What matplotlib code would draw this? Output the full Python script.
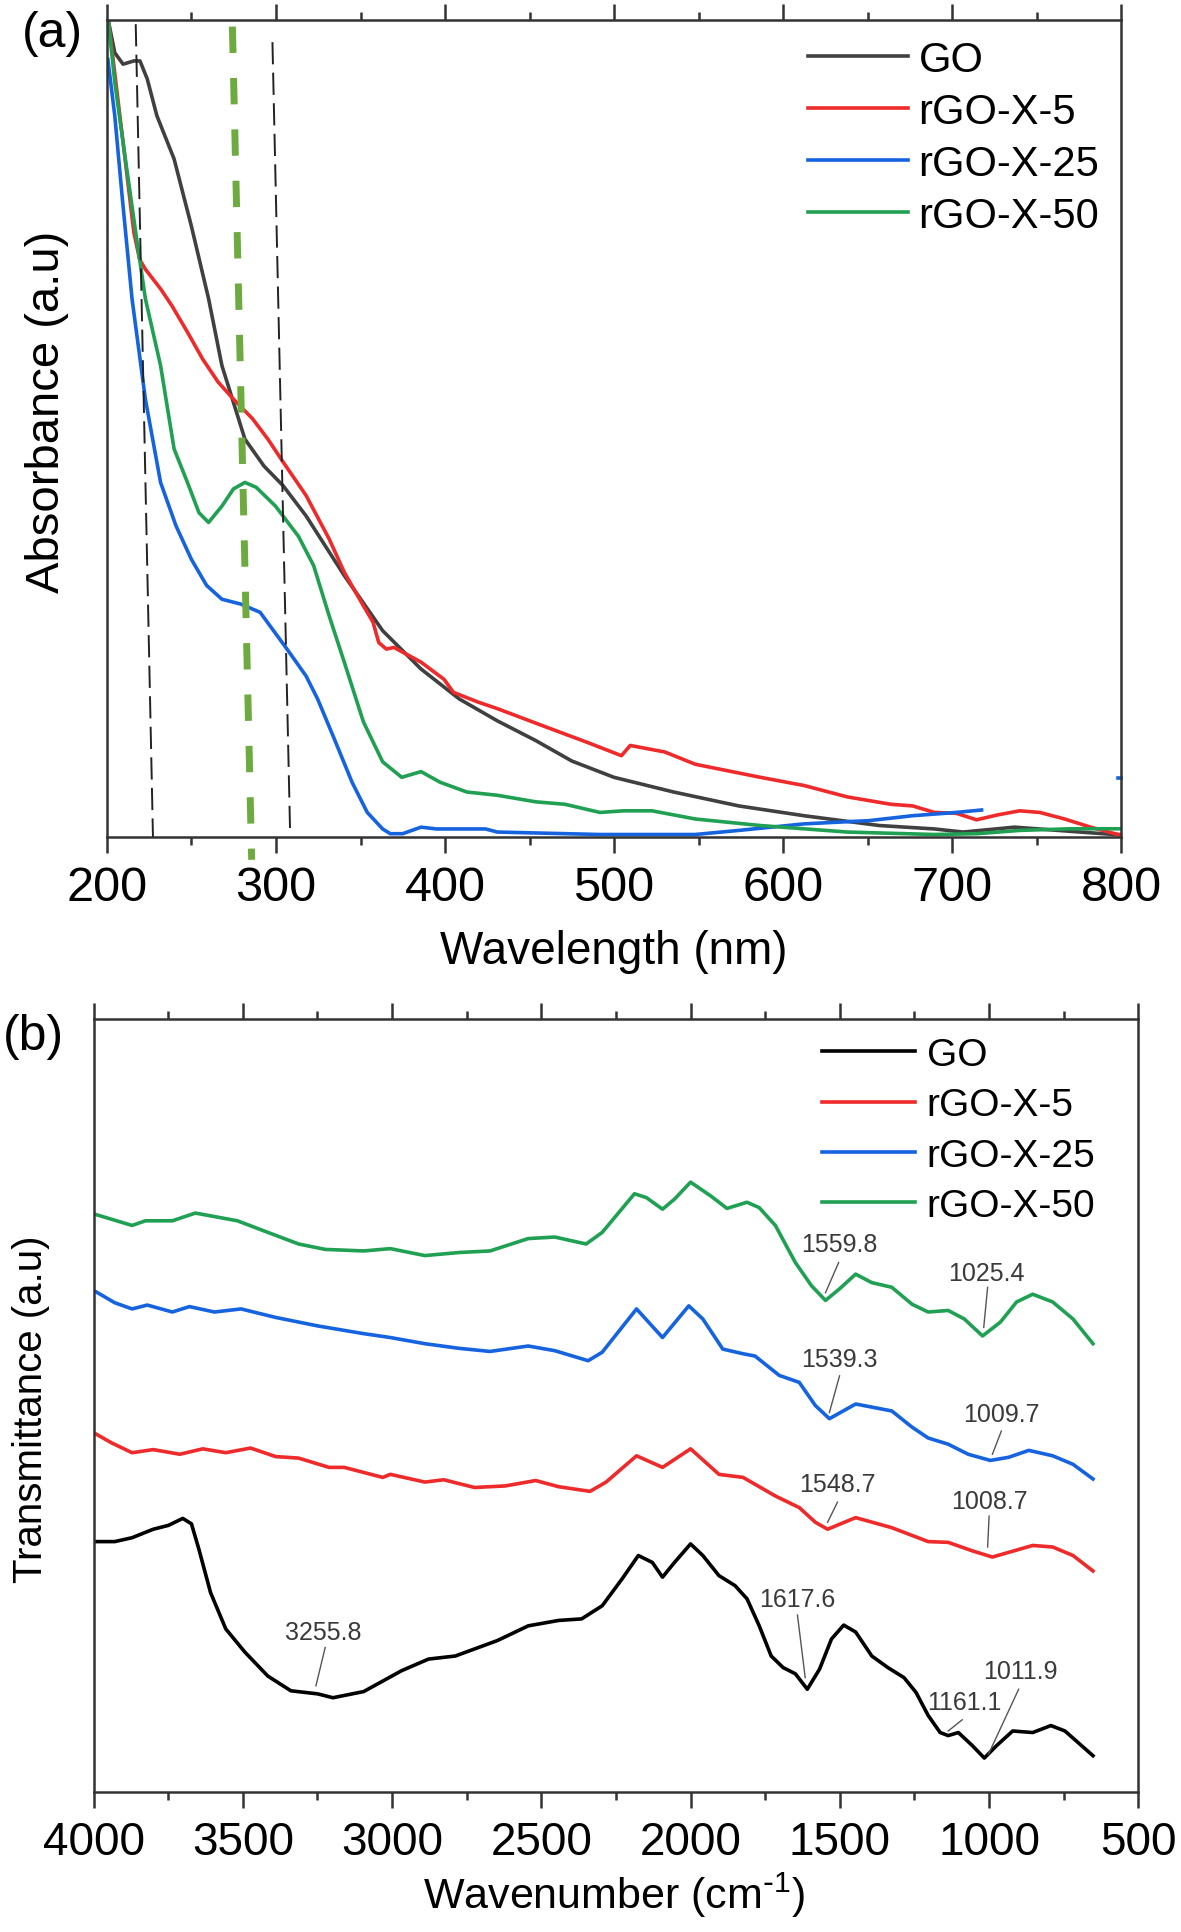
import matplotlib
matplotlib.use('Agg')
import matplotlib.pyplot as plt
from matplotlib.ticker import MultipleLocator

plt.rcParams['font.family'] = ['Liberation Sans', 'DejaVu Sans']
plt.rcParams['mathtext.default'] = 'regular'
plt.rcParams['lines.scale_dashes'] = False

# ---------------- Panel (a): UV-Vis absorbance ----------------
series_labels = ['GO', 'rGO-X-5', 'rGO-X-25', 'rGO-X-50']

go_a_x = [200.8, 204.6, 209.5, 215.9, 219.5, 223.8, 229.5, 239.7, 249.9, 260.1, 268, 274.8,
          281.6, 292.9, 304.2, 317.8, 340.4, 363.1, 385.8, 408.4, 431.1, 453.7, 475, 500,
          535.3, 573.8, 612.4, 657, 689.6, 706.5, 737, 776, 796, 800]
go_a_y = [0.999, 0.960, 0.946, 0.950, 0.950, 0.928, 0.883, 0.830, 0.748, 0.659, 0.577, 0.532,
          0.487, 0.454, 0.430, 0.393, 0.320, 0.2525, 0.2056, 0.169, 0.142, 0.118, 0.093, 0.073,
          0.055, 0.038, 0.026, 0.014, 0.0098, 0.006, 0.012, 0.006, 0.003, 0.003]

red_a_x = [201, 215.9, 219.3, 222.7, 231.7, 238.5, 247.6, 256.6, 265.7, 274.8, 286.1, 295.2,
           304.2, 317.8, 331.4, 340.4, 351.7, 357.4, 360.8, 365.3, 369.8, 385.8, 399.4, 405,
           419.7, 431.1, 458, 483.9, 504.4, 509.6, 530.1, 548.1, 586.6, 612.4, 638.1, 663.8,
           676.7, 689.6, 702.5, 714.5, 727, 740, 752, 766.6, 782, 800]
red_a_y = [0.997, 0.740, 0.707, 0.695, 0.671, 0.650, 0.618, 0.585, 0.557, 0.536, 0.512, 0.487,
           0.459, 0.418, 0.365, 0.324, 0.283, 0.263, 0.238, 0.230, 0.232, 0.214, 0.193, 0.177,
           0.165, 0.157, 0.136, 0.116, 0.0995, 0.112, 0.104, 0.089, 0.073, 0.063, 0.049, 0.040,
           0.038, 0.030, 0.029, 0.021, 0.027, 0.032, 0.030, 0.022, 0.012, 0.002]

blue_a_x = [200.5, 204.6, 209.1, 214.8, 222.7, 231.7, 240.8, 249.9, 258.9, 268, 279.3, 290.6,
            306.5, 317.8, 324.6, 333.7, 345, 354, 363.1, 367.6, 375, 385.8, 395, 424, 431,
            491.7, 548, 573.8, 612.4, 651, 676.7, 702.5, 717.5]
blue_a_y = [0.952, 0.883, 0.781, 0.659, 0.536, 0.434, 0.381, 0.340, 0.308, 0.291, 0.285, 0.275,
            0.230, 0.197, 0.169, 0.124, 0.067, 0.030, 0.0098, 0.004, 0.004, 0.012, 0.0098, 0.0098,
            0.006, 0.003, 0.003, 0.008, 0.016, 0.020, 0.026, 0.030, 0.033]
blue_a_tail_x = [798.5, 800]
blue_a_tail_y = [0.072, 0.072]

green_a_x = [200.8, 204.6, 211.4, 217, 222.7, 231.7, 239.7, 247.6, 254.4, 260.1, 268, 274.8,
             281.6, 288.3, 299.7, 313.3, 322.3, 331.4, 340.4, 351.7, 363.1, 374.4, 385.8, 397.1,
             412.9, 431.1, 453.7, 471, 491.7, 505.7, 522.5, 548.1, 586.6, 638.1, 689.6, 715,
             740, 770, 800]
green_a_y = [0.999, 0.924, 0.822, 0.740, 0.659, 0.577, 0.475, 0.434, 0.397, 0.385, 0.405, 0.426,
             0.434, 0.428, 0.405, 0.368, 0.332, 0.271, 0.214, 0.141, 0.092, 0.073, 0.080, 0.067,
             0.055, 0.051, 0.043, 0.040, 0.030, 0.032, 0.032, 0.022, 0.014, 0.006, 0.003, 0.004,
             0.008, 0.010, 0.010]

# guide lines in panel (a): (x_top, y_top, x_bottom, y_bottom)
guide_black_1 = [217.0, 0.995, 227.2, 0.0]
guide_black_2 = [297.9, 0.973, 308.3, 0.0098]
guide_green = [274.2, 0.992, 285.6, -0.028]

# ---------------- Panel (b): FTIR transmittance ----------------
go_b_x = [4000, 3929, 3871, 3800, 3749, 3701, 3672, 3647, 3608, 3557, 3493, 3416, 3339, 3249,
          3198, 3095, 2968, 2878, 2788, 2647, 2544, 2442, 2365, 2296, 2229, 2175, 2128, 2094,
          2054, 2000, 1959, 1905, 1851, 1811, 1770, 1730, 1690, 1649, 1609, 1568, 1528, 1487,
          1447, 1393, 1339, 1285, 1245, 1204, 1164, 1137, 1103, 1056, 1016, 975, 921, 854, 793,
          746, 652]
go_b_y = [0.324, 0.324, 0.329, 0.340, 0.345, 0.354, 0.347, 0.314, 0.258, 0.211, 0.181, 0.150,
          0.131, 0.127, 0.122, 0.130, 0.157, 0.172, 0.176, 0.196, 0.215, 0.222, 0.224, 0.241,
          0.276, 0.306, 0.297, 0.278, 0.297, 0.321, 0.306, 0.280, 0.267, 0.250, 0.215, 0.176,
          0.161, 0.153, 0.133, 0.159, 0.198, 0.216, 0.207, 0.176, 0.161, 0.148, 0.129, 0.099,
          0.077, 0.073, 0.077, 0.060, 0.044, 0.060, 0.079, 0.077, 0.086, 0.079, 0.047]

red_b_x = [4000, 3941, 3871, 3800, 3711, 3634, 3557, 3474, 3390, 3313, 3211, 3160, 3031, 3006,
           2890, 2827, 2724, 2621, 2519, 2442, 2337, 2283, 2181, 2094, 2000, 1905, 1824, 1716,
           1636, 1582, 1541, 1447, 1326, 1204, 1137, 1056, 989, 854, 787, 719, 652]
red_b_y = [0.465, 0.452, 0.439, 0.443, 0.437, 0.444, 0.439, 0.445, 0.434, 0.432, 0.420, 0.420,
           0.407, 0.411, 0.401, 0.404, 0.394, 0.396, 0.403, 0.395, 0.389, 0.401, 0.435, 0.420,
           0.444, 0.411, 0.407, 0.383, 0.368, 0.349, 0.340, 0.355, 0.342, 0.324, 0.323, 0.312,
           0.304, 0.319, 0.317, 0.306, 0.286]

blue_b_x = [4000, 3929, 3871, 3820, 3736, 3679, 3595, 3506, 3390, 3249, 3095, 3006, 2890, 2775,
            2672, 2544, 2455, 2343, 2296, 2181, 2094, 2006, 1959, 1892, 1824, 1784, 1703, 1636,
            1582, 1535, 1447, 1326, 1258, 1204, 1137, 1070, 996, 935, 867, 787, 719, 652]
blue_b_y = [0.649, 0.633, 0.625, 0.630, 0.621, 0.628, 0.621, 0.625, 0.614, 0.603, 0.593, 0.588,
            0.580, 0.574, 0.570, 0.577, 0.571, 0.558, 0.569, 0.625, 0.588, 0.629, 0.612, 0.573,
            0.567, 0.564, 0.539, 0.530, 0.500, 0.483, 0.502, 0.493, 0.472, 0.458, 0.450, 0.437,
            0.429, 0.433, 0.442, 0.435, 0.424, 0.405]

green_b_x = [4000, 3871, 3826, 3736, 3659, 3518, 3416, 3313, 3224, 3095, 3006, 2890, 2775, 2672,
             2544, 2455, 2350, 2296, 2188, 2148, 2094, 2054, 2000, 1932, 1878, 1811, 1770, 1716,
             1649, 1595, 1548, 1501, 1447, 1393, 1326, 1258, 1204, 1137, 1083, 1022, 962, 908,
             854, 787, 719, 652]
green_b_y = [0.748, 0.733, 0.739, 0.739, 0.749, 0.739, 0.724, 0.709, 0.702, 0.700, 0.703, 0.694,
             0.698, 0.700, 0.716, 0.718, 0.709, 0.724, 0.774, 0.769, 0.754, 0.767, 0.789, 0.771,
             0.755, 0.763, 0.756, 0.733, 0.685, 0.655, 0.636, 0.651, 0.670, 0.659, 0.653, 0.631,
             0.621, 0.623, 0.612, 0.590, 0.608, 0.634, 0.644, 0.634, 0.612, 0.580]

# peak annotations: label, text (x, y), leader start (x, y), leader end (x, y)
peak_labels = ['3255.8', '1617.6', '1161.1', '1011.9', '1548.7', '1008.7', '1009.7',
               '1539.3', '1559.8', '1025.4']
peak_text_x = [3230, 1642, 1083, 894, 1508, 1000, 959, 1501, 1501, 1009]
peak_text_y = [0.207, 0.250, 0.116, 0.157, 0.398, 0.376, 0.489, 0.560, 0.709, 0.672]
leader_x0 = [3224, 1642, 1090, 901, 1508, 1000, 959, 1501, 1504, 1005]
leader_y0 = [0.187, 0.229, 0.0935, 0.133, 0.375, 0.357, 0.467, 0.5385, 0.685, 0.653]
leader_x1 = [3255, 1616, 1137, 1002, 1541, 1005, 989, 1535, 1548, 1018]
leader_y1 = [0.1375, 0.148, 0.079, 0.049, 0.349, 0.317, 0.437, 0.491, 0.646, 0.601]

a_xticks = [200, 300, 400, 500, 600, 700, 800]
b_xticks = [4000, 3500, 3000, 2500, 2000, 1500, 1000, 500]

# ---------------- styling ----------------
c_go_a = '#404040'
c_go_b = '#000000'
c_red = '#EE2A2A'
c_blue = '#1663E0'
c_green = '#20A052'
c_guide_green = '#6DAA40'
spine_c = '#333333'
lw = 2.6

fig = plt.figure(figsize=(11.81, 19.33), dpi=100)
axa = fig.add_axes([0.0906, 0.5665, 0.8586, 0.4226])
axb = fig.add_axes([0.0792, 0.0724, 0.8847, 0.3999])

def style_axes(ax, fs, pad):
    for s in ax.spines.values():
        s.set_linewidth(1.8)
        s.set_color(spine_c)
    ax.tick_params(axis='x', which='both', direction='out', top=True, bottom=True,
                   labeltop=False, color=spine_c, width=1.8)
    ax.tick_params(axis='x', which='major', length=11.3, labelsize=fs, pad=pad)
    ax.tick_params(axis='x', which='minor', length=5.8)
    ax.tick_params(axis='y', which='both', left=False, right=False, labelleft=False)

# Panel (a)
axa.plot(go_a_x, go_a_y, color=c_go_a, lw=lw, label=series_labels[0], zorder=2)
axa.plot(red_a_x, red_a_y, color=c_red, lw=lw, label=series_labels[1], zorder=2)
axa.plot(blue_a_x, blue_a_y, color=c_blue, lw=lw, label=series_labels[2], zorder=2)
axa.plot(blue_a_tail_x, blue_a_tail_y, color=c_blue, lw=lw, zorder=2, clip_on=False)
axa.plot(green_a_x, green_a_y, color=c_green, lw=lw, label=series_labels[3], zorder=2)

for g in (guide_black_1, guide_black_2):
    axa.plot([g[0], g[2]], [g[1], g[3]], color='#222222', lw=1.4, dashes=(16, 6), zorder=3)
axa.plot([guide_green[0], guide_green[2]], [guide_green[1], guide_green[3]],
         color=c_guide_green, lw=5, dashes=(19, 18), zorder=3, clip_on=False)

axa.set_xlim(200, 800)
axa.set_ylim(0, 1)
axa.set_xticks(a_xticks)
axa.xaxis.set_minor_locator(MultipleLocator(50))
style_axes(axa, 35, 9)
axa.set_xlabel('Wavelength (nm)', fontsize=33)
axa.xaxis.set_label_coords(0.5, -0.1395)
axa.xaxis.label.set_va('center')
axa.set_ylabel('Absorbance (a.u)', fontsize=34)
axa.yaxis.set_label_coords(-0.059, 0.522)
axa.yaxis.label.set_va('center')
axa.legend(loc='upper left', bbox_to_anchor=(0.691, 0.976), frameon=False, fontsize=30,
           handlelength=2.4, handletextpad=0.26, labelspacing=0.29, borderpad=0,
           borderaxespad=0)
fig.text(52 / 1181, 1 - 34 / 1933, '(a)', fontsize=36, ha='center', va='center')

# Panel (b)
axb.plot(go_b_x, go_b_y, color=c_go_b, lw=lw, label=series_labels[0])
axb.plot(red_b_x, red_b_y, color=c_red, lw=lw, label=series_labels[1])
axb.plot(blue_b_x, blue_b_y, color=c_blue, lw=lw, label=series_labels[2])
axb.plot(green_b_x, green_b_y, color=c_green, lw=lw, label=series_labels[3])

for lab, tx, ty, x0, y0, x1, y1 in zip(peak_labels, peak_text_x, peak_text_y,
                                       leader_x0, leader_y0, leader_x1, leader_y1):
    axb.text(tx, ty, lab, fontsize=18, color='#3a3a3a', ha='center', va='center')
    axb.plot([x0, x1], [y0, y1], color='#555555', lw=1.0)

axb.set_xlim(4000, 500)
axb.set_ylim(0, 1)
axb.set_xticks(b_xticks)
axb.xaxis.set_minor_locator(MultipleLocator(250))
style_axes(axb, 33, 9)
axb.set_xlabel('Wavenumber (cm$^{\\text{-}1}$)', fontsize=31)
axb.xaxis.set_label_coords(0.498, -0.132)
axb.xaxis.label.set_va('center')
axb.set_ylabel('Transmittance (a.u)', fontsize=29)
axb.yaxis.set_label_coords(-0.060, 0.497)
axb.yaxis.label.set_va('center')
axb.legend(loc='upper left', bbox_to_anchor=(0.697, 0.977), frameon=False, fontsize=28,
           handlelength=2.4, handletextpad=0.3, labelspacing=0.37, borderpad=0,
           borderaxespad=0)
fig.text(33 / 1181, 1 - 1037.5 / 1933, '(b)', fontsize=36, ha='center', va='center')

fig.savefig('out.png', dpi=100)
